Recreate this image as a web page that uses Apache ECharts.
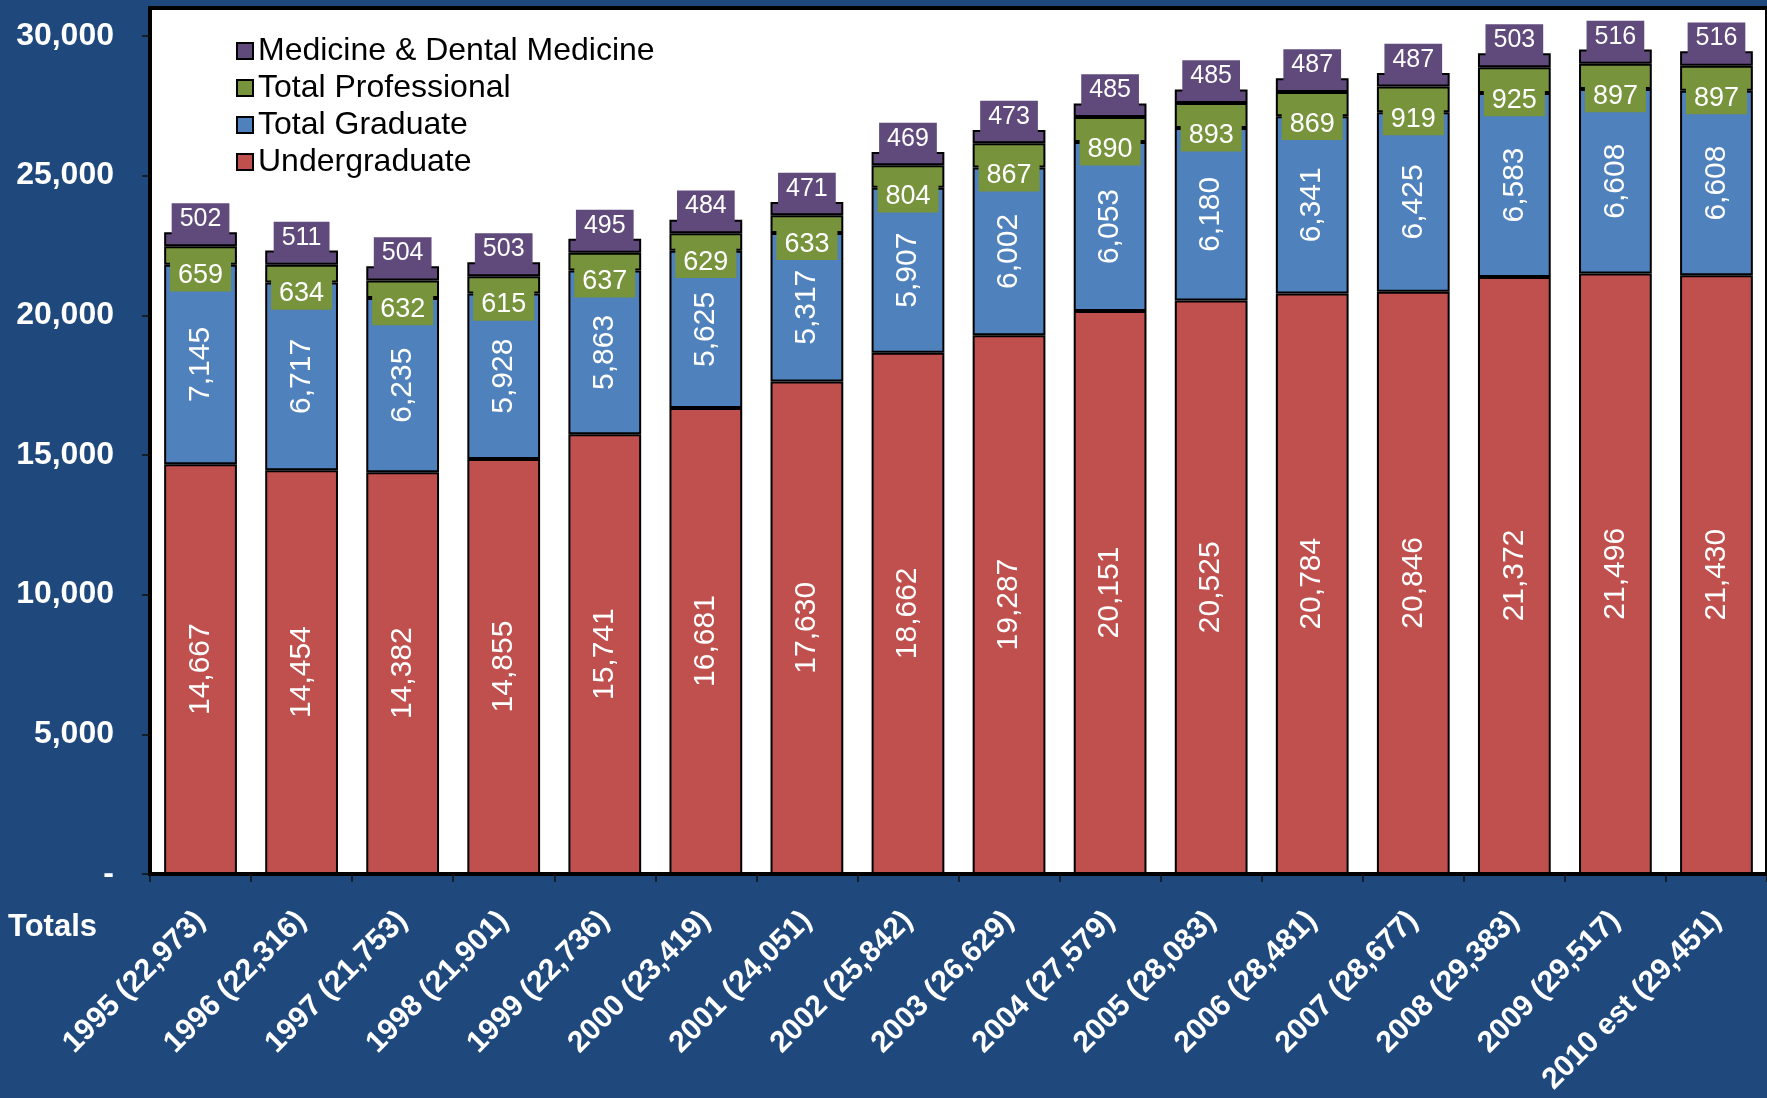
<!DOCTYPE html>
<html>
<head>
<meta charset="utf-8">
<script src="https://cdn.jsdelivr.net/npm/echarts@6/dist/echarts.min.js"></script>
<style>
html,body{margin:0;padding:0;background:#1F497D;}
#c{width:1767px;height:1098px;}
</style>
</head>
<body>
<div id="c"></div>
<script>
const categories = ["1995 (22,973)","1996 (22,316)","1997 (21,753)","1998 (21,901)","1999 (22,736)","2000 (23,419)","2001 (24,051)","2002 (25,842)","2003 (26,629)","2004 (27,579)","2005 (28,083)","2006 (28,481)","2007 (28,677)","2008 (29,383)","2009 (29,517)","2010 est (29,451)"];
const undergraduate = [14667,14454,14382,14855,15741,16681,17630,18662,19287,20151,20525,20784,20846,21372,21496,21430];
const graduate = [7145,6717,6235,5928,5863,5625,5317,5907,6002,6053,6180,6341,6425,6583,6608,6608];
const professional = [659,634,632,615,637,629,633,804,867,890,893,869,919,925,897,897];
const medicine = [502,511,504,503,495,484,471,469,473,485,485,487,487,503,516,516];
const yTicks = [0,5000,10000,15000,20000,25000,30000];

const FONT = '"Liberation Sans", Arial, sans-serif';
function fmt(v){ return String(v).replace(/\B(?=(\d{3})+(?!\d))/g, ','); }

const chart = echarts.init(document.getElementById('c'));
const border = {borderColor:'#000', borderWidth:2};

function vLabel(){
  return {show:true, position:'inside', rotate:90, color:'#fff', fontSize:30, fontFamily:FONT,
    formatter:p=>fmt(p.value)};
}
chart.setOption({
  backgroundColor:'#1F497D',
  animation:false,
  textStyle:{fontFamily:FONT},
  grid:{left:150, top:8, right:-6, bottom:224, show:true, backgroundColor:'#fff', borderColor:'#000', borderWidth:4, containLabel:false},
  legend:{
    orient:'vertical', left:231, top:30, itemWidth:16, itemHeight:16, itemGap:5,
    data:['Medicine & Dental Medicine','Total Professional','Total Graduate','Undergraduate'],
    textStyle:{fontSize:32, color:'#000', fontFamily:FONT, lineHeight:32},
    icon:'rect'
  },
  graphic:[{type:'text', left:8, top:912, style:{text:'Totals', fill:'#fff', font:'bold 31px '+FONT}}],
  xAxis:{
    type:'category', data:categories,
    axisLine:{show:true, lineStyle:{color:'#000', width:4}},
    axisTick:{show:true, length:8, lineStyle:{color:'#111', width:1.5}},
    axisLabel:{rotate:45, color:'#fff', fontSize:30, fontWeight:'bold', fontFamily:FONT, margin:42, interval:0}
  },
  yAxis:{
    type:'value', min:0, max:31000, interval:5000,
    axisLine:{show:true, lineStyle:{color:'#000', width:4}},
    axisTick:{show:true, length:8, lineStyle:{color:'#111', width:1.5}},
    splitLine:{show:false},
    axisLabel:{color:'#fff', fontSize:32, fontWeight:'bold', fontFamily:FONT, margin:36, showMaxLabel:false,
      formatter:v=> yTicks.indexOf(v)<0 ? '' : (v===0?'-':fmt(v))}
  },
  series:[
    {name:'Undergraduate', type:'bar', stack:'s', data:undergraduate, barWidth:'72%',
      itemStyle:Object.assign({color:'#C0504D'}, border), label:vLabel()},
    {name:'Total Graduate', type:'bar', stack:'s', data:graduate,
      itemStyle:Object.assign({color:'#4F81BD'}, border), label:vLabel()},
    {name:'Total Professional', type:'bar', stack:'s', data:professional,
      itemStyle:Object.assign({color:'#77933C'}, border),
      label:{show:true, position:'inside', offset:[0,20], color:'#fff', fontSize:27, fontFamily:FONT,
        backgroundColor:'#77933C', padding:[3,8,2,8], formatter:p=>fmt(p.value)}},
    {name:'Medicine & Dental Medicine', type:'bar', stack:'s', data:medicine,
      itemStyle:Object.assign({color:'#604A7B'}, border),
      label:{show:true, position:'inside', offset:[0,-20], color:'#fff', fontSize:25, fontFamily:FONT,
        backgroundColor:'#604A7B', padding:[4,8,3,8], formatter:p=>fmt(p.value)}}
  ]
});
</script>
</body>
</html>
